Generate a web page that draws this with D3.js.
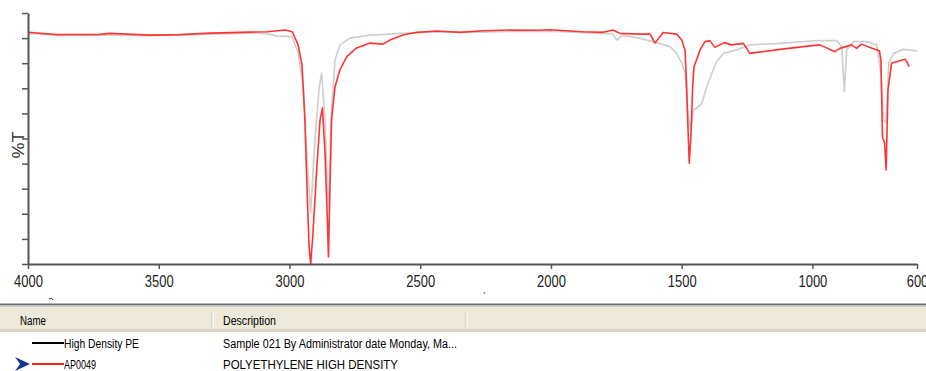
<!DOCTYPE html>
<html>
<head>
<meta charset="utf-8">
<script src="https://cdn.jsdelivr.net/npm/d3@7"></script>
<style>
  html, body { margin: 0; padding: 0; background: #fff; overflow: hidden; }
  svg { display: block; }
</style>
</head>
<body>
<div id="chart"></div>
<script>
// spectrum data (wavenumber cm-1, %T)
const refWn = [4000, 3889, 3725, 3533, 3419, 3304, 3151, 3086, 3048, 2991, 2966, 2947, 2934, 2919, 2902, 2886, 2877, 2864, 2855, 2850, 2841, 2826, 2807, 2769, 2692, 2566, 2437, 2260, 2157, 2004, 1877, 1801, 1767, 1747, 1728, 1659, 1609, 1545, 1519, 1500, 1487, 1475, 1466, 1456, 1443, 1423, 1404, 1385, 1366, 1341, 1290, 1239, 1124, 984, 907, 888, 878, 869, 844, 792, 754, 738, 728, 718, 708, 690, 652, 600];
const refT  = [91.8, 91.2, 91.2, 91.0, 91.2, 91.6, 92.0, 91.8, 90.8, 90.6, 84.1, 70.5, 44.2, 20.3, 50.6, 70.5, 76.1, 57.4, 30.7, 22.7, 57.4, 81.3, 87.3, 90.0, 91.2, 91.9, 92.5, 92.4, 92.7, 92.8, 92.2, 91.9, 91.8, 89.2, 91.2, 89.9, 88.6, 86.6, 83.9, 80.0, 76.0, 58.7, 53.4, 61.4, 62.0, 64.0, 70.6, 76.0, 80.6, 83.9, 85.3, 87.3, 87.9, 89.0, 89.0, 86.6, 68.6, 85.3, 88.6, 88.6, 87.3, 76.0, 57.4, 56.2, 80.1, 83.9, 85.5, 84.9];

const libWn = [4000, 3889, 3725, 3686, 3533, 3419, 3304, 3151, 3086, 3017, 2990, 2987, 2967, 2952, 2941, 2933, 2925, 2919, 2911, 2896, 2883, 2874, 2864, 2855, 2851, 2845, 2839, 2826, 2807, 2781, 2743, 2692, 2642, 2616, 2566, 2513, 2437, 2348, 2260, 2157, 2054, 2004, 1927, 1877, 1801, 1763, 1736, 1659, 1621, 1602, 1571, 1519, 1500, 1487, 1481, 1477, 1471, 1464, 1458, 1453, 1443, 1430, 1411, 1392, 1373, 1337, 1309, 1264, 1239, 1220, 1124, 1009, 971, 914, 895, 850, 831, 812, 780, 744, 738, 732, 724, 718, 711, 697, 678, 646, 639, 630];
const libT  = [92.3, 91.4, 91.5, 91.9, 91.2, 91.4, 92.0, 92.4, 92.5, 93.2, 92.5, 92.0, 87.3, 79.3, 57.4, 30.7, 6.8, 0.0, 10.8, 37.5, 57.4, 62.2, 44.2, 17.5, 2.8, 30.7, 57.4, 70.5, 77.3, 82.6, 86.1, 88.0, 87.6, 89.2, 91.2, 92.3, 92.8, 92.3, 92.9, 93.2, 93.1, 93.3, 92.8, 92.5, 92.3, 93.2, 91.9, 91.6, 91.6, 88.0, 92.2, 91.6, 89.2, 85.3, 70.6, 57.4, 40.2, 52.2, 70.6, 78.6, 81.3, 85.3, 88.6, 89.0, 86.3, 88.2, 87.3, 87.9, 83.9, 84.2, 85.5, 86.9, 87.3, 84.6, 85.9, 87.3, 85.9, 87.6, 86.3, 85.0, 81.3, 50.6, 48.2, 37.5, 69.3, 80.1, 80.6, 81.6, 80.6, 78.6];

const xTicks = [4000, 3500, 3000, 2500, 2000, 1500, 1000, 600];
const yTicks = d3.range(0, 101, 10);

const legendNames = ["High Density PE", "AP0049"];
const legendDescs = ["Sample 021 By Administrator date Monday, Ma...", "POLYETHYLENE HIGH DENSITY"];
const legendColors = ["#000000", "#ff2020"];

const W = 926, H = 371;
const svg = d3.select("#chart").append("svg").attr("width", W).attr("height", H);

const x = d3.scaleLinear().domain([4000, 600]).range([28, 917]);
const y = d3.scaleLinear().domain([0, 100]).range([264, 13]);

// traces: reference (grey) under library match (red)
const line = d3.line().x(d => x(d[0])).y(d => y(d[1]));
svg.append("path")
  .datum(d3.zip(refWn, refT))
  .attr("d", line)
  .attr("fill", "none")
  .attr("stroke", "#cfcfcf")
  .attr("stroke-width", 1.7)
  .attr("stroke-linejoin", "round");
svg.append("path")
  .datum(d3.zip(libWn, libT))
  .attr("d", line)
  .attr("fill", "none")
  .attr("stroke", "#ff3535")
  .attr("stroke-width", 1.6)
  .attr("stroke-linejoin", "round");

// axes
const xAxisG = svg.append("g")
  .attr("transform", "translate(0,264)")
  .call(d3.axisBottom(x).tickValues(xTicks).tickFormat(d3.format("d")).tickSize(5).tickSizeOuter(0));
const yAxisG = svg.append("g")
  .attr("transform", "translate(28,0)")
  .call(d3.axisLeft(y).tickValues(yTicks).tickFormat("").tickSize(6).tickSizeOuter(0));

[xAxisG, yAxisG].forEach(g => {
  g.select(".domain").attr("stroke", "#555").attr("stroke-width", 2);
  g.selectAll(".tick line").attr("stroke", "#555").attr("stroke-width", 1.5);
});
// tick labels are narrow in the original; 600 runs off the right edge there too
xAxisG.selectAll(".tick text")
  .attr("y", 11)
  .attr("dy", "0.71em")
  .attr("fill", "#222")
  .attr("font-family", "'Liberation Sans Narrow', 'Liberation Sans', Arial, sans-serif")
  .attr("font-size", 17)
  .attr("textLength", d => String(d).length * 7.2)
  .attr("lengthAdjust", "spacingAndGlyphs");

svg.append("text")
  .attr("transform", "translate(24,145) rotate(-90)")
  .attr("text-anchor", "middle")
  .attr("fill", "#333")
  .attr("font-family", "'Liberation Sans', Arial, sans-serif")
  .attr("font-size", 17)
  .attr("textLength", 27)
  .attr("lengthAdjust", "spacingAndGlyphs")
  .text("%T");

svg.append("text")
  .attr("x", 483).attr("y", 293)
  .attr("font-size", 9).attr("fill", "#333")
  .attr("font-family", "'Liberation Sans', sans-serif")
  .text(",");

// list panel below the plot
const panel = svg.append("g");
panel.append("path").attr("d", "M49,299 q3,-2 4,1").attr("fill", "none").attr("stroke", "#333").attr("stroke-width", 1);
panel.append("rect").attr("x", 0).attr("y", 303.5).attr("width", W).attr("height", 2).attr("fill", "#6e6e6e");
panel.append("rect").attr("x", 0).attr("y", 305.5).attr("width", W).attr("height", 1.5).attr("fill", "#c8c8c8");
panel.append("rect").attr("x", 0).attr("y", 307).attr("width", W).attr("height", 24).attr("fill", "#ece9d8");
panel.append("rect").attr("x", 0).attr("y", 329).attr("width", W).attr("height", 3).attr("fill", "#d8d4c4");

[212, 466].forEach(cx => {
  panel.append("line").attr("x1", cx).attr("x2", cx).attr("y1", 311).attr("y2", 328)
    .attr("stroke", "#c6c2b0").attr("stroke-width", 1);
  panel.append("line").attr("x1", cx + 1).attr("x2", cx + 1).attr("y1", 311).attr("y2", 328)
    .attr("stroke", "#ffffff").attr("stroke-width", 1);
});

const uiFont = "Tahoma, 'Liberation Sans', 'DejaVu Sans', sans-serif";
panel.append("text").attr("x", 20).attr("y", 325).attr("font-family", uiFont).attr("font-size", 12)
  .attr("fill", "#000").attr("textLength", 26).attr("lengthAdjust", "spacingAndGlyphs").text("Name");
panel.append("text").attr("x", 223).attr("y", 325).attr("font-family", uiFont).attr("font-size", 12)
  .attr("fill", "#000").attr("textLength", 53).attr("lengthAdjust", "spacingAndGlyphs").text("Description");

const nameLen = [75, 32];
const descLen = [234, 175];
legendNames.forEach((name, i) => {
  const base = 348 + i * 21;
  panel.append("line").attr("x1", 32).attr("x2", 64).attr("y1", base - 5).attr("y2", base - 5)
    .attr("stroke", legendColors[i]).attr("stroke-width", 2);
  panel.append("text").attr("x", 64).attr("y", base).attr("font-family", uiFont).attr("font-size", 12)
    .attr("fill", "#000").attr("textLength", nameLen[i]).attr("lengthAdjust", "spacingAndGlyphs").text(name);
  panel.append("text").attr("x", 223).attr("y", base).attr("font-family", uiFont).attr("font-size", 12)
    .attr("fill", "#000").attr("textLength", descLen[i]).attr("lengthAdjust", "spacingAndGlyphs").text(legendDescs[i]);
});

// selection marker on the second row
panel.append("path")
  .attr("d", "M15,357 L30,364 L15,371 L20,364 Z")
  .attr("fill", "#1c3296");
</script>
</body>
</html>
